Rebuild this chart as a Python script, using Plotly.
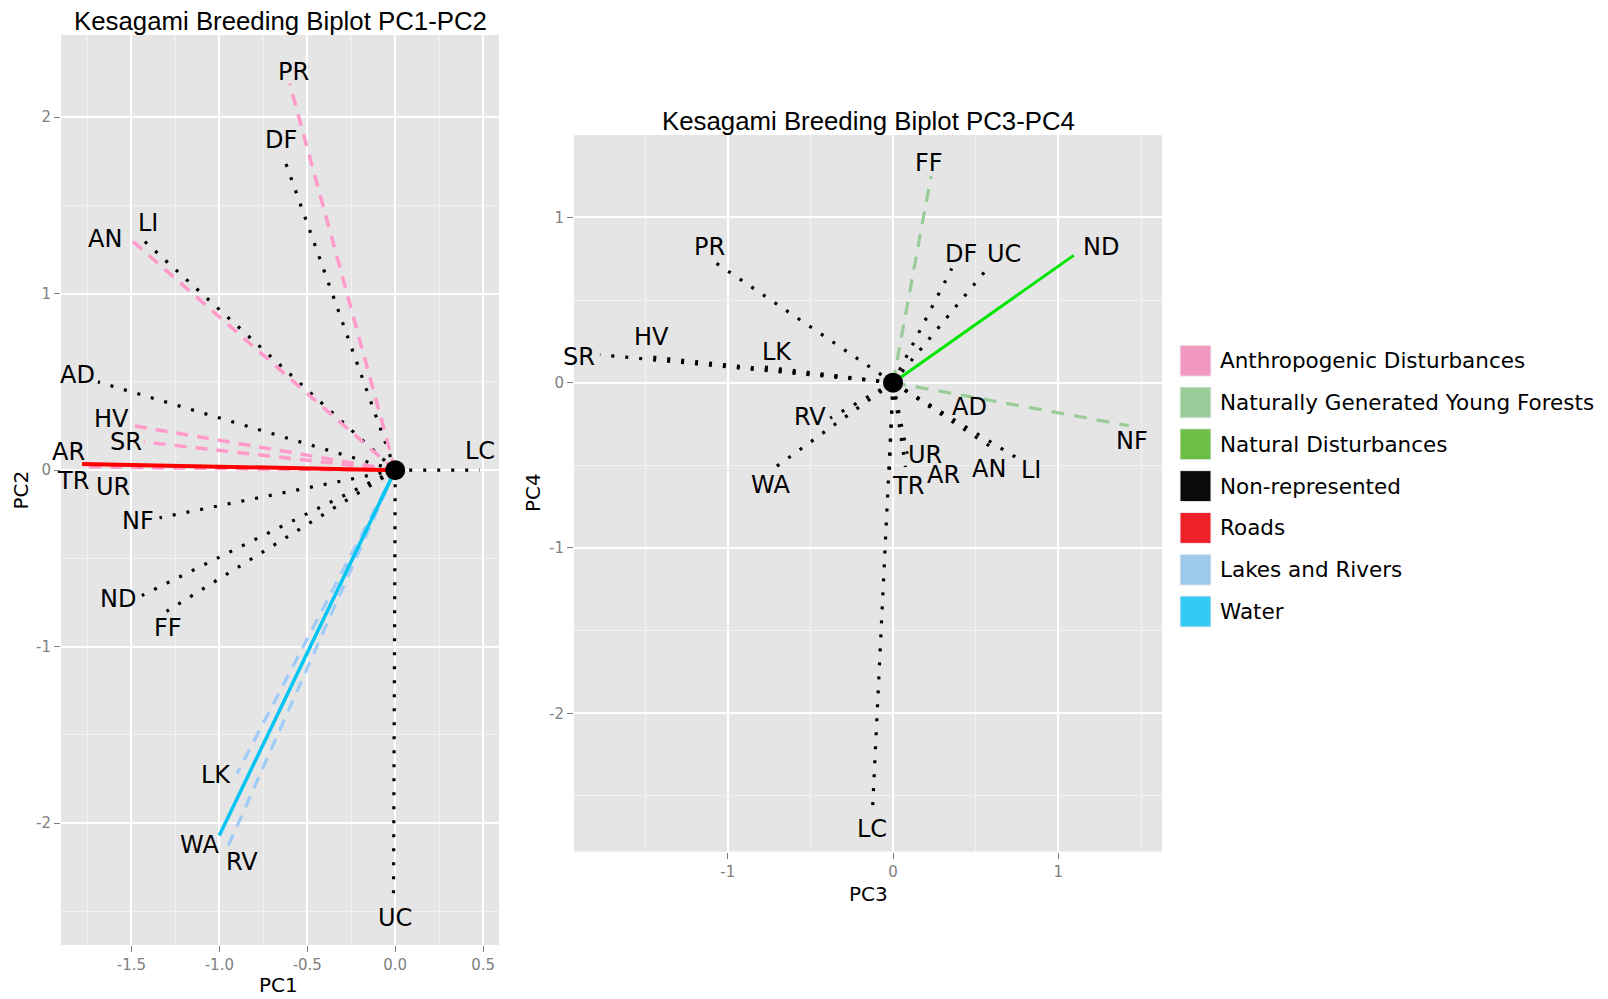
import plotly.graph_objects as go

W, H = 1608, 999

# ---- Loadings, PC1-PC2 biplot ----
vars_12 = ["PR", "DF", "AN", "LI", "AD", "HV", "SR", "AR", "TR", "UR",
           "LC", "UC", "NF", "ND", "FF", "LK", "WA", "RV"]
pc1 = [-0.60, -0.63, -1.52, -1.44, -1.69, -1.48, -1.43, -1.78, -1.78, -1.55,
       0.48, -0.01, -1.34, -1.44, -1.30, -0.90, -1.00, -0.95]
pc2 = [2.19, 1.76, 1.32, 1.31, 0.50, 0.25, 0.16, 0.035, 0.02, 0.015,
       0.00, -2.44, -0.27, -0.71, -0.80, -1.72, -2.07, -2.13]
kind_12 = ["anthro", "none", "anthro", "none", "none", "anthro", "anthro", "road", "anthro", "anthro",
           "none", "none", "none", "none", "none", "lakes", "water", "lakes"]

# ---- Loadings, PC3-PC4 biplot ----
vars_34 = ["PR", "DF", "UC", "ND", "FF", "NF", "SR", "HV", "LK", "RV",
           "WA", "AD", "AN", "LI", "UR", "AR", "TR", "LC"]
pc3 = [-1.11, 0.355, 0.57, 1.093, 0.23, 1.425, -1.773, -1.506, -0.78, -0.38,
       -0.71, 0.36, 0.61, 0.74, 0.085, 0.075, -0.025, -0.125]
pc4 = [0.75, 0.69, 0.69, 0.77, 1.25, -0.26, 0.169, 0.16, 0.095, -0.215,
       -0.51, -0.22, -0.40, -0.45, -0.43, -0.51, -0.59, -2.60]
kind_34 = ["none", "none", "none", "natdist", "young", "young", "none", "none", "none", "none",
           "none", "none", "none", "none", "none", "none", "none", "none"]

# ---- Legend ----
legend_labels = ["Anthropogenic Disturbances", "Naturally Generated Young Forests",
                 "Natural Disturbances", "Non-represented", "Roads",
                 "Lakes and Rivers", "Water"]
legend_fills = ["#F199C1", "#99CC99", "#6CBE46", "#0A0A0A", "#EE2128", "#9DC9EB", "#33C9F2"]

# line appearance for each kind of vector
STYLES = {
    "none":    dict(color="#000000", width=3.2, dash="3px,11px"),
    "anthro":  dict(color="#FF9ACB", width=3.5, dash="12px,9px"),
    "lakes":   dict(color="#9ECBF7", width=3.2, dash="12px,9px"),
    "young":   dict(color="#99CC99", width=3.2, dash="13px,10px"),
    "road":    dict(color="#FF0000", width=4, dash="solid"),
    "water":   dict(color="#00C4F2", width=3.5, dash="solid"),
    "natdist": dict(color="#00E600", width=3, dash="solid"),
}
DRAW_ORDER = ["none", "anthro", "lakes", "young", "road", "water", "natdist"]

# label offsets from the arrow tip, in pixels (right, down)
SHIFT_12 = {"PR": (4, -12), "DF": (-3, -19), "AN": (-23, 2), "LI": (6, -16),
            "AD": (-20, -7), "HV": (-23, -7), "SR": (-18, 0), "AR": (-14, -12),
            "TR": (-9, 14), "UR": (-10, 20), "LC": (0, -19), "UC": (2, 17),
            "NF": (-22, 3), "ND": (-24, 4), "FF": (1, 17), "LK": (-21, 1),
            "WA": (-20, 9), "RV": (14, 16)}
SHIFT_34 = {"PR": (0, -12), "DF": (9, -15), "UC": (17, -15), "ND": (27, -8),
            "FF": (-2, -13), "NF": (3, 15), "SR": (-21, 2), "HV": (7, -19),
            "LK": (13, -15), "RV": (-20, -1), "WA": (-5, 18), "AD": (17, -12),
            "AN": (-5, 20), "LI": (16, 13), "UR": (18, 1), "AR": (38, 8),
            "TR": (19, 6), "LC": (0, 16)}


def px_x(p):
    return p / W


def px_y(p):
    return 1 - p / H


fig = go.Figure()
annotations = []
shapes = []


def add_biplot(names, xs, ys, kinds, shifts, xa, ya):
    for k in DRAW_ORDER:
        for n, xv, yv, kk in zip(names, xs, ys, kinds):
            if kk != k:
                continue
            fig.add_trace(go.Scatter(
                x=[0, xv], y=[0, yv], mode="lines", xaxis=xa, yaxis=ya,
                line=STYLES[k], showlegend=False, hoverinfo="skip"))
    fig.add_trace(go.Scatter(
        x=[0], y=[0], mode="markers", xaxis=xa, yaxis=ya,
        marker=dict(size=20, color="black"), showlegend=False, hoverinfo="skip"))
    for n, xv, yv in zip(names, xs, ys):
        dx, dy = shifts[n]
        annotations.append(dict(
            x=xv, y=yv, xref=xa, yref=ya, text=n, showarrow=False,
            xshift=dx, yshift=-dy, xanchor="center", yanchor="middle",
            font=dict(family="DejaVu Sans", size=24, color="black")))


add_biplot(vars_12, pc1, pc2, kind_12, SHIFT_12, "x", "y")
add_biplot(vars_34, pc3, pc4, kind_34, SHIFT_34, "x2", "y2")

TICKFONT = dict(family="DejaVu Sans", size=15, color="#7F7F7F")


def axis(domain, rng, tickvals, ticktext, minor_dtick, minor_tick0, anchor):
    return dict(
        domain=domain, range=rng, anchor=anchor,
        tickmode="array", tickvals=tickvals, ticktext=ticktext,
        ticks="outside", ticklen=6, tickwidth=1, tickcolor="#7F7F7F",
        tickfont=TICKFONT, showgrid=True, gridcolor="#FFFFFF", gridwidth=1.5,
        zeroline=False, showline=False, fixedrange=True,
        minor=dict(tickmode="linear", dtick=minor_dtick, tick0=minor_tick0,
                   showgrid=True, gridcolor="#F2F2F2", gridwidth=0.7, ticks=""),
    )


x1_dom = [px_x(61), px_x(499)]
y1_dom = [px_y(945), px_y(35)]
x2_dom = [px_x(574), px_x(1162)]
y2_dom = [px_y(851.7), px_y(135)]

fig.update_layout(
    width=W, height=H,
    margin=dict(l=0, r=0, t=0, b=0),
    paper_bgcolor="white", plot_bgcolor="#E5E5E5",
    xaxis=axis(x1_dom, [-1.90, 0.59], [-1.5, -1.0, -0.5, 0.0, 0.5],
               ["-1.5", "-1.0", "-0.5", "0.0", "0.5"], 0.5, 0.25, "y"),
    yaxis=axis(y1_dom, [-2.69, 2.465], [-2, -1, 0, 1, 2],
               ["-2", "-1", "0", "1", "2"], 1, 0.5, "x"),
    xaxis2=axis(x2_dom, [-1.93, 1.627], [-1, 0, 1], ["-1", "0", "1"], 1, 0.5, "y2"),
    yaxis2=axis(y2_dom, [-2.837, 1.498], [-2, -1, 0, 1], ["-2", "-1", "0", "1"], 1, 0.5, "x2"),
)

# panel titles and axis titles
TITLE_FONT = dict(family="Liberation Sans", size=25.8, color="black")
AXIS_FONT = dict(family="DejaVu Sans", size=20, color="black")
text_items = [
    ("Kesagami Breeding Biplot PC1-PC2", 280, 20.5, TITLE_FONT, 0),
    ("Kesagami Breeding Biplot PC3-PC4", 868, 121, TITLE_FONT, 0),
    ("PC1", 278, 984.5, AXIS_FONT, 0),
    ("PC2", 20.5, 490, AXIS_FONT, -90),
    ("PC3", 868, 894, AXIS_FONT, 0),
    ("PC4", 533, 493, AXIS_FONT, -90),
]
for txt, xp, yp, fnt, ang in text_items:
    annotations.append(dict(
        x=px_x(xp), y=px_y(yp), xref="paper", yref="paper", text=txt,
        showarrow=False, xanchor="center", yanchor="middle", font=fnt, textangle=ang))

# legend keys and labels
row0, row_step = 360.7, 41.8
for i, (lab, col) in enumerate(zip(legend_labels, legend_fills)):
    yc = row0 + i * row_step
    shapes.append(dict(
        type="rect", xref="paper", yref="paper",
        x0=px_x(1180), x1=px_x(1211), y0=px_y(yc + 15.5), y1=px_y(yc - 15.5),
        fillcolor=col, line=dict(color="#F0F0F0", width=1)))
    annotations.append(dict(
        x=px_x(1217.5), y=px_y(yc), xref="paper", yref="paper", text=lab,
        showarrow=False, xanchor="left", yanchor="middle",
        font=dict(family="DejaVu Sans", size=21.5, color="black")))

fig.update_layout(annotations=annotations, shapes=shapes)

fig.write_html("out.html")
